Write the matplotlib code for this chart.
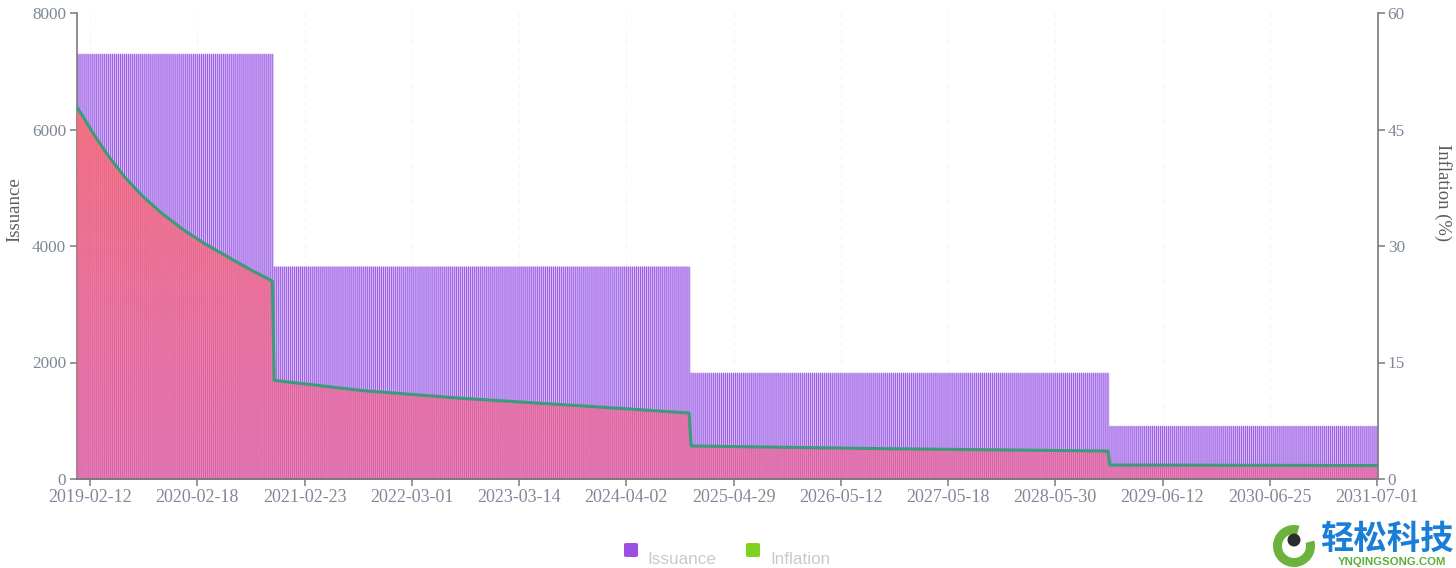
import numpy as np
import matplotlib
matplotlib.use("Agg")
import matplotlib.pyplot as plt
from matplotlib.patches import FancyBboxPatch, Circle, Wedge
from matplotlib.transforms import IdentityTransform

# issuance per week, piecewise constant (level, number of weekly bars)
issuance_levels = [7300, 3650, 1825, 912.5]
weeks_per_level = [97, 206, 207, 133]

# inflation (%): (bar index, value)
inflation_idx = [0, 4, 8, 15, 23, 32, 41, 52, 62, 78, 87, 96,
                 97, 140, 189, 250, 302,
                 303, 400, 509,
                 510, 642]
inflation_pct = [47.9, 46.0, 44.3, 41.6, 38.9, 36.4, 34.3, 32.1, 30.4, 28.0, 26.7, 25.5,
                 12.7, 11.4, 10.4, 9.4, 8.5,
                 4.25, 3.9, 3.6,
                 1.8, 1.73]

tick_labels = ["2019-02-12", "2020-02-18", "2021-02-23", "2022-03-01", "2023-03-14",
               "2024-04-02", "2025-04-29", "2026-05-12", "2027-05-18", "2028-05-30",
               "2029-06-12", "2030-06-25", "2031-07-01"]

issuance = np.repeat(issuance_levels, weeks_per_level)
n = len(issuance)
x = np.arange(n)

plt.rcParams['font.family'] = ['Liberation Serif', 'DejaVu Serif']
tick_col = '#7f8898'
axis_col = '#7a7a7a'

fig = plt.figure(figsize=(14.56, 5.68), dpi=100)
ax1 = fig.add_axes([77 / 1456, 1 - 479 / 568, 1301 / 1456, 466 / 568])
ax2 = ax1.twinx()

# bars: pale block behind, thin dark bars on top
xs = np.concatenate([[-0.5], x, [n - 0.5]])
ys = np.concatenate([[issuance[0]], issuance, [issuance[-1]]])
ax1.fill_between(xs, ys, 0, step='mid', color='#d9c0fa', lw=0, zorder=1.5)
ax1.bar(x, issuance, width=0.5, color='#9b5ce2', linewidth=0, zorder=2,
        snap=False, antialiased=True)
ax1.set_xlim(-0.5, n - 0.5)
ax1.set_ylim(0, 8000)
ax1.set_yticks(range(0, 8001, 2000))
ax1.set_xticks([6 + 53 * k for k in range(len(tick_labels))])
ax1.set_xticklabels(tick_labels)
ax1.grid(axis='x', color='#f5f5f5', lw=0.8, ls=(0, (4, 4)), zorder=0)
ax1.set_axisbelow(True)

# inflation area with gradient + line
xi = np.array(inflation_idx, dtype=float)
xi[0] = -0.5
poly = ax2.fill_between(xi, inflation_pct, 0, color='none', lw=0)
t = np.linspace(0, 1, 256)[:, None]
top = np.array([252, 108, 112, 0.86 * 255]) / 255
bot = np.array([248, 100, 142, 0.62 * 255]) / 255
grad = (bot + (top - bot) * t)[:, None, :]
im = ax2.imshow(grad, extent=[-0.5, n - 0.5, 0, 48], origin='lower', aspect='auto',
                zorder=1, interpolation='bilinear')
im.set_clip_path(poly.get_paths()[0], ax2.transData)
ax2.plot(xi, inflation_pct, color='#3a9c78', lw=2.2, zorder=3, solid_joinstyle='round')
ax2.set_xlim(-0.5, n - 0.5)
ax2.set_ylim(0, 60)
ax2.set_yticks(range(0, 61, 15))

for ax in (ax1, ax2):
    ax.spines['top'].set_visible(False)
    for s in ('left', 'right', 'bottom'):
        ax.spines[s].set_color(axis_col)
        ax.spines[s].set_linewidth(1.2)
    ax.tick_params(colors=axis_col, labelcolor=tick_col, labelsize=12.4, length=5, width=1.1)
ax1.spines['right'].set_visible(False)
ax2.spines['left'].set_visible(False)
ax1.tick_params(axis='y', pad=3)
ax1.tick_params(axis='x', pad=2, labelsize=13)
ax2.tick_params(axis='y', pad=2)

ax1.set_ylabel('Issuance', fontsize=13.5, color='#5c5c5c')
ax1.yaxis.set_label_coords(-0.041, 0.577)
ax2.set_ylabel('Inflation (%)', fontsize=13.4, color='#5c5c5c', rotation=-90, va='center')
ax2.yaxis.set_label_coords(1.050, 0.614)

# legend at bottom
H = 568.0
W = 1456.0
def fx(px):
    return px / W
def fy(py):
    return 1 - py / H

for (sx, col, lab, tx) in [(624, '#9b50e2', 'Issuance', 647), (746, '#7ed321', 'Inflation', 770)]:
    fig.patches.append(FancyBboxPatch((fx(sx), fy(557)), 14 / W, 14 / H,
                                      boxstyle='round,pad=0,rounding_size=0.002',
                                      transform=fig.transFigure, color=col, lw=0))
    fig.text(fx(tx), fy(564), lab, fontsize=12.3, color='#c6cad2',
             family=['Liberation Sans', 'DejaVu Sans'], va='baseline', ha='left')

# watermark (pixel coordinates, origin bottom-left)
pix = IdentityTransform()
fig.patches.append(Wedge((1294, H - 546), 21, 75, 375, width=9,
                         transform=pix, color='#6cb33e', lw=0))
fig.patches.append(Circle((1294, H - 540), 6.5, transform=pix, color='#2c2c2c', lw=0))
fig.text(fx(1320), fy(539), '轻松科技', fontsize=24, color='#1a7ed6', weight='bold',
         family=['Noto Sans CJK SC', 'DejaVu Sans'], va='center', ha='left')
fig.text(fx(1392), fy(562), 'YNQINGSONG.COM', fontsize=8.2, color='#5fae3a', weight='bold',
         family=['Liberation Sans', 'DejaVu Sans'], va='center', ha='center')

fig.savefig('out.png', dpi=100)
